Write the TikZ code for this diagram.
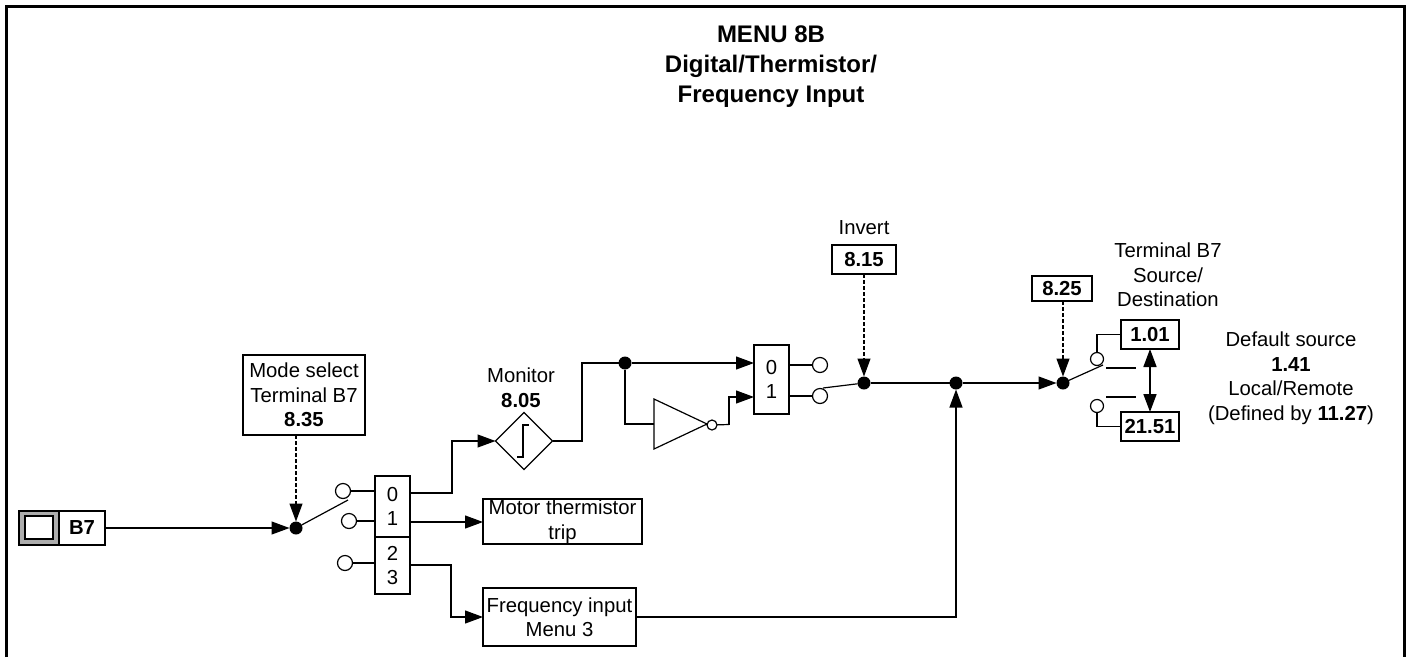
\documentclass[tikz,border=0pt]{standalone}
\usepackage{fontspec}
\setmainfont{Liberation Sans}
\usetikzlibrary{arrows.meta, positioning, shapes.geometric}

\begin{document}
\begin{tikzpicture}[
 x=1pt,y=-1pt,
 node distance=4pt and 4pt,
 every node/.style={font=\fontsize{20.3}{24.5}\selectfont,inner sep=0pt,outer sep=0pt},
 wire/.style={line width=1.2pt},
 flow/.style={wire,-{Triangle[length=18pt,width=13pt]}},
 control/.style={flow,dash pattern=on 3.5pt off 2.5pt},
 plainbox/.style={rectangle,draw=black,line width=1.2pt,align=center},
 valuebox/.style={plainbox,minimum width=#1,minimum height=29pt,font=\fontsize{20.3}{24.5}\bfseries\selectfont},
 junction/.style={circle,fill=black,minimum size=13pt},
 contact/.style={circle,draw=black,line width=1.2pt,fill=white,minimum size=15pt},
 caption/.style={align=center}]
 \useasboundingbox (0,0) rectangle (1406,657);
 \draw[line width=3pt] (6.5,657) -- (6.5,6.5) -- (1404.5,6.5) -- (1404.5,657);
 \node[align=center,font=\fontsize{24}{30}\bfseries\selectfont] (title) at (771,67)
   {MENU 8B\\Digital/Thermistor/\\Frequency Input};
 % input terminal
 \node[plainbox,fill=black!32,minimum width=40pt,minimum height=34pt] (termb) at (39,528) {};
 \node[plainbox,fill=white,line width=1.5pt,minimum width=28pt,minimum height=23pt] (termw) at (39,527.5) {};
 \node[plainbox,minimum width=46pt,minimum height=34pt,font=\fontsize{20.3}{24.5}\bfseries\selectfont,
   right=0pt of termb] (b7) {B7};
 % mode selector
 \node[plainbox,minimum width=122pt,minimum height=80pt] (mode) at (304,395)
   {Mode select\\Terminal B7\\\textbf{8.35}};
 \node[junction] (dota) at (296,528) {};
 \coordinate (arma) at (348,500);
 \node[plainbox,minimum width=35pt,minimum height=61pt] (sela) at (392.5,506.5) {0\\1};
 \node[plainbox,minimum width=35pt,minimum height=57pt,below=0pt of sela] (selb) {2\\3};
 \node[contact] (ca0) at (343,491) {};
 \node[contact] (ca1) at (349,521) {};
 \node[contact] (ca2) at (345,563) {};
 % outputs of the selector
 \coordinate (outa0) at (410,493);
 \coordinate (outa1) at (410,522);
 \coordinate (outa2) at (410,565);
 \node[diamond,draw=black,line width=1.2pt,minimum width=57pt,minimum height=57pt,aspect=1] (thresh) at (524,441) {};
 \node[caption,above=5pt of thresh,xshift=-3pt] (monitor) {Monitor\\\textbf{8.05}};
 \node[plainbox,minimum width=159pt,minimum height=45pt] (motor) at (562.5,521.5) {Motor thermistor\\trip};
 \node[plainbox,minimum width=153pt,minimum height=58pt] (freq) at (559.5,617) {Frequency input\\Menu 3};
 % invert stage
 \node[junction] (dotb) at (625,363) {};
 \node[isosceles triangle,isosceles triangle apex angle=50.5,draw=black,line width=1.2pt,
   minimum height=53pt,anchor=lower side] (inv) at (654,424) {};
 \node[contact,minimum size=10pt] (bubble) at (712,425) {};
 \node[plainbox,minimum width=35pt,minimum height=69pt] (sinv) at (771.5,379.5) {0\\1};
 \coordinate (sinv0) at (754,363);
 \coordinate (sinv1) at (754,397);
 \node[contact] (cb0) at (820,365) {};
 \node[contact] (cb1) at (820,396) {};
 \coordinate (armb) at (823,388);
 \node[junction] (dotc) at (864,383) {};
 \node[valuebox=64pt] (inv15) at (864,259.5) {8.15};
 \node[caption,above=10pt of inv15] (invert) {Invert};
 \node[junction] (dotd) at (956,383) {};
 % output stage
 \node[junction] (dote) at (1063,383) {};
 \node[valuebox=60pt,minimum height=25pt] (sel25) at (1062,288.5) {8.25};
 \node[valuebox=58pt] (dst101) at (1150,334.5) {1.01};
 \node[valuebox=58pt] (dst2151) at (1150,426.5) {21.51};
 \node[caption,above=13pt of dst101,xshift=18pt] (dstlabel) {Terminal B7\\Source/\\Destination};
 \node[contact,minimum size=13pt] (cc0) at (1097,359) {};
 \node[contact,minimum size=13pt] (cc1) at (1097,406) {};
 \coordinate (armc) at (1103,365);
 \node[caption] (deflabel) at (1291,378)
   {Default source\\\textbf{1.41}\\Local/Remote\\(Defined by \textbf{11.27})};
 \coordinate (tra) at (1106,368);
 \coordinate (trb) at (1136,368);
 \coordinate (trc) at (1106,397);
 \coordinate (trd) at (1136,397);
 % connectors
 \draw[flow] (b7) -- (dota);
 \draw[control] (mode.south -| dota) -- (dota);
 \draw[wire] (dota) -- (arma);
 \draw[wire] (ca0) -- (ca0 -| sela.west);
 \draw[wire] (ca1) -- (ca1 -| sela.west);
 \draw[wire] (ca2) -- (ca2 -| selb.west);
 \draw[flow] (outa0) -| (452,441) -- (thresh.west);
 \draw[flow] (outa1) -- (outa1 -| motor.west);
 \draw[flow] (outa2) -| (451,617) -- (freq.west);
 \draw[wire] (thresh.east) -| (582,363) -- (dotb);
 \draw[flow] (dotb) -- (sinv0);
 \draw[wire] (dotb) |- (inv.lower side);
 \draw[wire] (bubble) -- (729,424.5);
 \draw[flow] (729,424.5) |- (sinv1);
 \draw[wire] (cb0) -- (cb0 -| sinv.east);
 \draw[wire] (cb1) -- (cb1 -| sinv.east);
 \draw[wire] (dotc) -- (armb);
 \draw[control] (inv15) -- (dotc);
 \draw[wire] (dotc) -- (dotd);
 \draw[flow] (dotd) -- (dote);
 \draw[flow] (freq.east) -| (dotd);
 \draw[control] (sel25.south -| dote) -- (dote);
 \draw[wire] (dote) -- (armc);
 \draw[wire] (cc0) |- (dst101);
 \draw[wire] (cc1) |- (dst2151);
 \draw[wire] (tra) -- (trb);
 \draw[wire] (trc) -- (trd);
 \draw[flow,line width=1.7pt,{Triangle[length=18pt,width=13pt]}-{Triangle[length=18pt,width=13pt]}]
   (dst101) -- (dst2151);
 % threshold symbol
 \draw[wire,shift={(thresh.center)}] (-7,16) -- (-1,16) -- (-1,-16) -- (5,-16);
\end{tikzpicture}
\end{document}
